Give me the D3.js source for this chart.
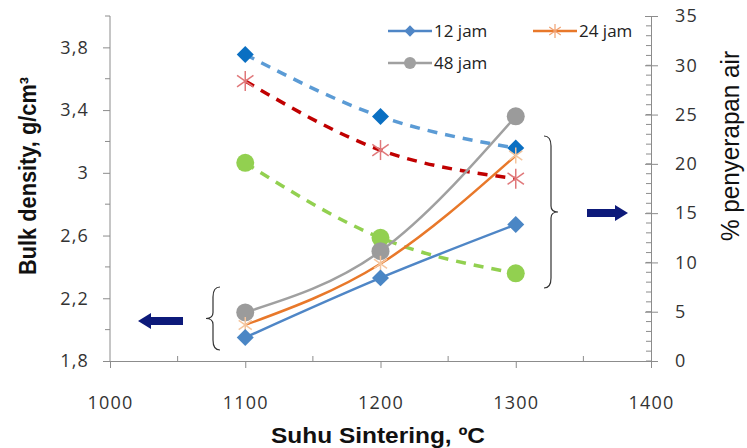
<!DOCTYPE html>
<meta charset="utf-8">
<title>Bulk density dan penyerapan air</title>
<style>
  body { margin: 0; background: #fff; }
  svg { font-family: "Liberation Sans", Arial, sans-serif; }
  .tick text { font-family: "Open Sans", "Liberation Sans", sans-serif; font-size: 18px; letter-spacing: 1.2px; fill: #333; }
  .axis path, .axis line { stroke: #8c8c8c; }
</style>
<body>
<script src="https://d3js.org/d3.v7.min.js"></script>
<script>
  // data
  var suhu = [1100, 1200, 1300];
  var bd12 = [1.95, 2.33, 2.67];
  var bd24 = [2.03, 2.42, 3.11];
  var bd48 = [2.11, 2.50, 3.36];
  var wa12 = [31.1, 24.8, 21.6];
  var wa24 = [28.4, 21.4, 18.5];
  var wa48 = [20.1, 12.5, 8.9];
  var xTicks = [1000, 1100, 1200, 1300, 1400];
  var leftTicks = [1.8, 2.2, 2.6, 3.0, 3.4, 3.8];
  var rightTicks = [0, 5, 10, 15, 20, 25, 30, 35];

  var width = 747, height = 448;
  var pLeft = 110, pRight = 651, pTop = 16, pBottom = 361;

  var svg = d3.select("body").append("svg")
    .attr("width", width)
    .attr("height", height);

  var x = d3.scaleLinear().domain([1000, 1400]).range([pLeft, pRight]);
  var yL = d3.scaleLinear().domain([1.8, 4.0]).range([pBottom, pTop]);
  var yR = d3.scaleLinear().domain([0, 35]).range([pBottom, pTop]);

  // minor ticks
  var minor = svg.append("g").attr("stroke", "#8c8c8c");
  minor.selectAll(".mx").data(d3.range(1050, 1400, 100)).enter().append("line")
    .attr("x1", d => x(d)).attr("x2", d => x(d))
    .attr("y1", pBottom - 5).attr("y2", pBottom);
  minor.selectAll(".ml").data(d3.range(2.0, 4.01, 0.4)).enter().append("line")
    .attr("x1", pLeft - 5).attr("x2", pLeft)
    .attr("y1", d => yL(d)).attr("y2", d => yL(d));
  minor.selectAll(".mr").data(d3.range(0, 35)).enter().append("line")
    .attr("x1", pRight - 5).attr("x2", pRight)
    .attr("y1", d => yR(d)).attr("y2", d => yR(d));

  var xAxis = svg.append("g").attr("class", "axis")
    .attr("transform", "translate(0," + pBottom + ")")
    .call(d3.axisBottom(x).tickValues(xTicks).tickSize(7).tickSizeOuter(0).tickFormat(d3.format("d")));
  xAxis.selectAll(".tick text").attr("y", 35);

  var lAxis = svg.append("g").attr("class", "axis")
    .attr("transform", "translate(" + pLeft + ",0)")
    .call(d3.axisLeft(yL).tickValues(leftTicks).tickSize(7).tickSizeOuter(0)
      .tickFormat(d => d3.format(".1~f")(d).replace(".", ",")));
  lAxis.selectAll(".tick text").attr("x", -21);
  lAxis.select(".domain").attr("d", "M0," + pTop + "V" + pBottom);

  var rAxis = svg.append("g").attr("class", "axis")
    .attr("transform", "translate(" + pRight + ",0)")
    .call(d3.axisRight(yR).tickValues(rightTicks).tickSize(7).tickSizeOuter(0));
  rAxis.selectAll(".tick line").attr("x1", -6).attr("x2", 7);
  rAxis.selectAll(".tick text").attr("x", 24);

  // axis titles
  svg.append("text")
    .attr("transform", "translate(36,176) rotate(-90)")
    .attr("text-anchor", "middle")
    .attr("textLength", 198).attr("lengthAdjust", "spacingAndGlyphs")
    .style("font-size", "23px").style("font-weight", "bold").style("fill", "#111")
    .text("Bulk density, g/cm\u00b3");
  svg.append("text")
    .attr("transform", "translate(739,146) rotate(-90)")
    .attr("text-anchor", "middle")
    .attr("textLength", 190).attr("lengthAdjust", "spacingAndGlyphs")
    .style("font-size", "25px").style("fill", "#111")
    .text("% penyerapan air");
  svg.append("text")
    .attr("x", 378).attr("y", 443)
    .attr("text-anchor", "middle")
    .attr("textLength", 214).attr("lengthAdjust", "spacingAndGlyphs")
    .style("font-size", "22px").style("font-weight", "bold").style("fill", "#111")
    .text("Suhu Sintering, \u00baC");

  var smooth = d3.curveMonotoneX;

  function drawLine(vals, y, color, w, dash) {
    var line = d3.line().x((d, i) => x(suhu[i])).y(d => y(d)).curve(smooth);
    svg.append("path").datum(vals)
      .attr("d", line)
      .attr("fill", "none")
      .attr("stroke", color)
      .attr("stroke-width", w)
      .attr("stroke-dasharray", dash || null);
  }

  function diamonds(vals, y, color, s) {
    svg.append("g").selectAll("rect").data(vals).enter().append("rect")
      .attr("x", -s / 2).attr("y", -s / 2).attr("width", s).attr("height", s)
      .attr("transform", (d, i) => "translate(" + x(suhu[i]) + "," + y(d) + ") rotate(45)")
      .attr("fill", color);
  }

  function circles(vals, y, color, r) {
    svg.append("g").selectAll("circle").data(vals).enter().append("circle")
      .attr("cx", (d, i) => x(suhu[i])).attr("cy", d => y(d)).attr("r", r)
      .attr("fill", color);
  }

  function starShape(g, r) {
    [0, 55, -55].forEach(function(a) {
      var rad = a * Math.PI / 180;
      g.append("line")
        .attr("x1", -r * Math.sin(rad)).attr("y1", -r * Math.cos(rad))
        .attr("x2", r * Math.sin(rad)).attr("y2", r * Math.cos(rad));
    });
  }

  function stars(vals, y, color, r) {
    var g = svg.append("g").selectAll("g").data(vals).enter().append("g")
      .attr("transform", (d, i) => "translate(" + x(suhu[i]) + "," + y(d) + ")")
      .attr("stroke", color).attr("stroke-width", 1.5);
    starShape(g, r);
  }

  // water absorption, dashed (right axis)
  drawLine(wa12, yR, "#5b9bd5", 3.5, "10,8");
  drawLine(wa24, yR, "#c00000", 3.5, "10,8");
  drawLine(wa48, yR, "#92d050", 3.5, "10,8");

  // bulk density, solid (left axis)
  drawLine(bd48, yL, "#a0a0a0", 2.5);
  drawLine(bd24, yL, "#e8782a", 2.5);
  drawLine(bd12, yL, "#4f86c6", 2.5);

  diamonds(wa12, yR, "#0a6fc2", 12);
  stars(wa24, yR, "#e0787a", 10);
  circles(wa48, yR, "#92d050", 9);
  circles(bd48, yL, "#9b9b9b", 9);
  stars(bd24, yL, "#f4c59e", 8);
  diamonds(bd12, yL, "#4a86c5", 12);

  // legend
  var legend = [
    { name: "12 jam", color: "#4f86c6", mark: "diamond", lx: 388, ly: 31 },
    { name: "24 jam", color: "#e8782a", mark: "star", lx: 533, ly: 31 },
    { name: "48 jam", color: "#a0a0a0", mark: "circle", lx: 388, ly: 63 }
  ];
  var lg = svg.append("g").selectAll("g").data(legend).enter().append("g")
    .attr("transform", d => "translate(" + d.lx + "," + d.ly + ")");
  lg.append("line").attr("x1", 0).attr("x2", 44).attr("stroke", d => d.color).attr("stroke-width", 2.5);
  lg.filter(d => d.mark == "diamond").append("rect")
    .attr("x", -4).attr("y", -4).attr("width", 8).attr("height", 8)
    .attr("transform", "translate(22,0) rotate(45)").attr("fill", d => d.color);
  lg.filter(d => d.mark == "circle").append("circle")
    .attr("cx", 22).attr("r", 6).attr("fill", d => d.color);
  lg.filter(d => d.mark == "star").each(function() {
    var g = d3.select(this).append("g").attr("transform", "translate(22,0)")
      .attr("stroke", "#f0a070").attr("stroke-width", 1.2);
    starShape(g, 7);
  });
  lg.append("text").attr("x", 46).attr("dy", "0.35em")
    .style("font-family", "'Open Sans', sans-serif").style("font-size", "17px").style("fill", "#222")
    .text(d => d.name);

  // braces and arrows
  function brace(xPos, y0, y1, dir) {
    var m = (y0 + y1) / 2, w = 7 * dir;
    var p = "M" + (xPos + w) + "," + y0
      + " Q" + xPos + "," + y0 + " " + xPos + "," + (y0 + 10)
      + " L" + xPos + "," + (m - 6)
      + " Q" + xPos + "," + m + " " + (xPos - w) + "," + m
      + " Q" + xPos + "," + m + " " + xPos + "," + (m + 6)
      + " L" + xPos + "," + (y1 - 10)
      + " Q" + xPos + "," + y1 + " " + (xPos + w) + "," + y1;
    svg.append("path").attr("d", p).attr("fill", "none").attr("stroke", "#333").attr("stroke-width", 1.2);
  }
  brace(213, 287, 350, 1);
  brace(551, 136, 288, -1);

  function arrow(x0, x1, yPos) {
    var dir = x1 > x0 ? 1 : -1, head = 13 * dir;
    var p = "M" + x0 + "," + (yPos - 4) + " L" + (x1 - head) + "," + (yPos - 4)
      + " L" + (x1 - head) + "," + (yPos - 8) + " L" + x1 + "," + yPos
      + " L" + (x1 - head) + "," + (yPos + 8) + " L" + (x1 - head) + "," + (yPos + 4)
      + " L" + x0 + "," + (yPos + 4) + "Z";
    svg.append("path").attr("d", p).attr("fill", "#0d1a7a");
  }
  arrow(183, 138, 321);
  arrow(587, 628, 213);
</script>
</body>
</html>
